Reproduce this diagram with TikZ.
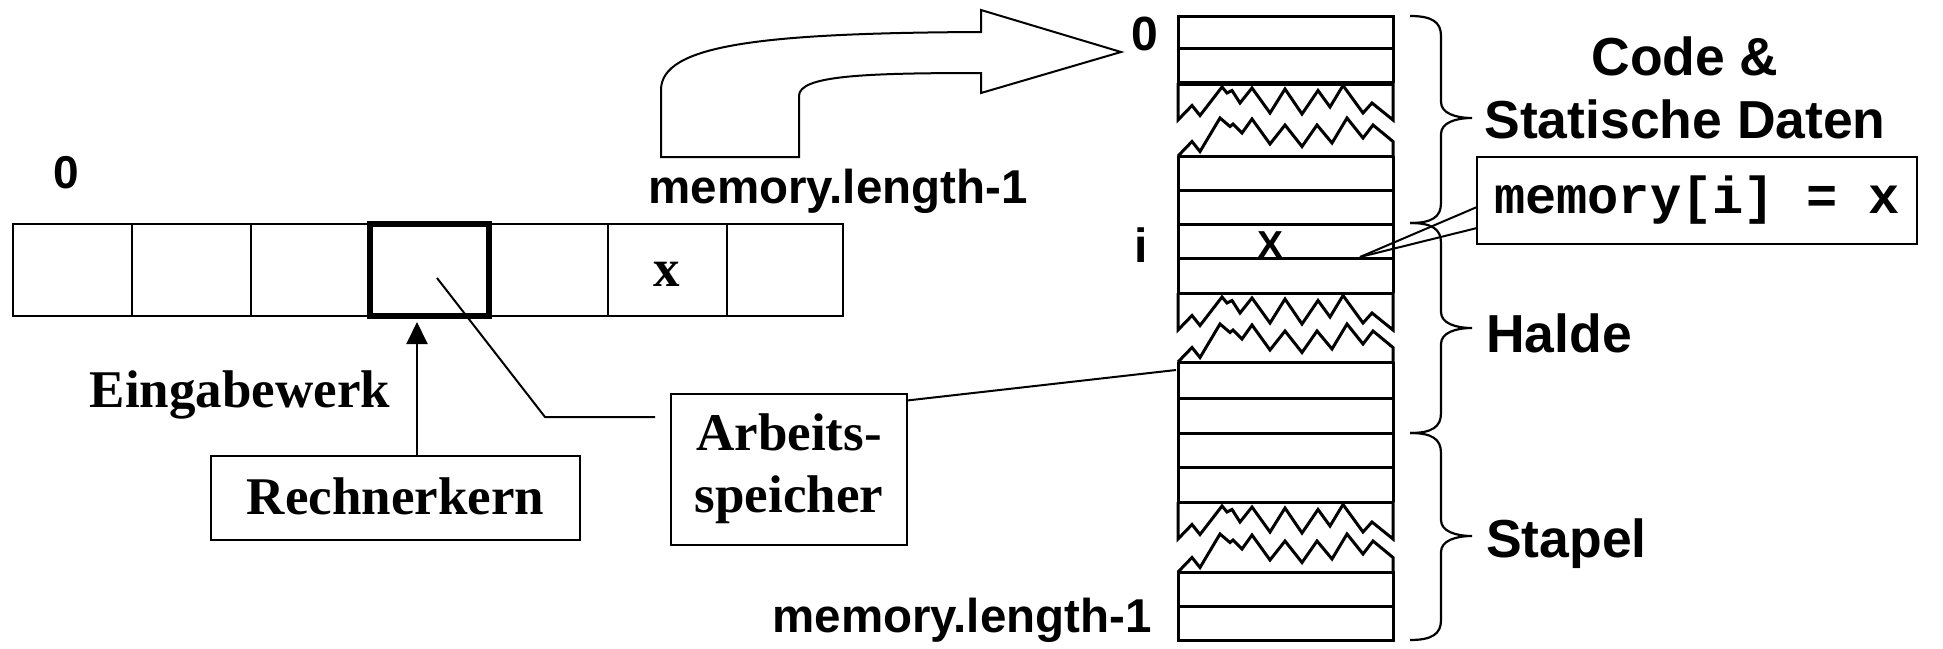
\documentclass[tikz,border=0pt]{standalone}
\usepackage{fontspec}
\setmainfont{Liberation Serif}
\setsansfont{Liberation Sans}
\setmonofont{Liberation Mono}
\usetikzlibrary{arrows.meta}

% fonts
\newcommand\timesbig{\rmfamily\bfseries\fontsize{53}{62}\selectfont}
\newcommand\arialbig{\sffamily\bfseries\fontsize{53.5}{63}\selectfont}
\newcommand\arialmid{\sffamily\bfseries\fontsize{47.5}{56}\selectfont}
\newcommand\courierbig{\ttfamily\bfseries\fontsize{52}{60}\selectfont}

% torn edge under the last line (at y=#1) of a memory piece
\newcommand\tearbelow[1]{%
  \draw[colline,shift={(1178,#1)}] (0,0) -- (0,37) -- (14,22.5) -- (22,32.5) -- (44,4)
    -- (49,10) -- (54,7.5) -- (62,20) -- (74,5) -- (92,30) -- (107,6) -- (124,31)
    -- (140,7.5) -- (152,24) -- (165,2.5) -- (185,30) -- (194,20) -- (215,37) -- (215,0);}
% torn edge above the first line (at y=#1) of a memory piece
\newcommand\tearabove[1]{%
  \draw[colline,shift={(1178,#1)}] (0,0) -- (14,-14.5) -- (22,-4.5) -- (42,-38) -- (52,-29.5)
    -- (55,-32) -- (64,-23) -- (74,-37) -- (92,-12) -- (107,-31) -- (124,-9.5)
    -- (139,-31) -- (154,-13) -- (169,-38) -- (185,-18) -- (195,-31) -- (215,-14.5) -- (215,0);}
% curly brace: top, tip, bottom
\newcommand\membrace[3]{%
  \draw[bracestyle] (1410,#1) .. controls (1432,#1) and (1441,#1+6) .. (1441,#1+20)
    -- (1441,#2-16) .. controls (1441,#2-5) and (1455,#2) .. (1472,#2)
    .. controls (1455,#2) and (1441,#2+5) .. (1441,#2+16)
    -- (1441,#3-20) .. controls (1441,#3-6) and (1432,#3) .. (1410,#3);}

\begin{document}
\begin{tikzpicture}[x=1pt,y=-1pt,
  cell/.style={draw,line width=2pt,minimum width=119pt,minimum height=92pt,
    inner sep=0pt,outer sep=0pt},
  colline/.style={line width=3pt,line join=miter},
  bracestyle/.style={line width=2.2pt},
  thin/.style={line width=2pt},
  labelbox/.style={draw,inner sep=0pt,outer sep=0pt}]
\useasboundingbox (0,0) rectangle (1943,648);

% ---------- linear memory (left) ----------
\node[cell] (c0) at (72,270) {};
\node[cell] (c1) at (191,270) {};
\node[cell] (c2) at (310,270) {};
\node[cell] (c4) at (548,270) {};
\node[cell,font=\timesbig,text height=32pt,text depth=0pt] (c5) at (667,270) {x};
\node[cell,minimum width=116pt] (c6) at (784.5,270) {};
\node[cell,line width=6pt] (c3) at (429,270) {};

\node[anchor=base,font=\sffamily\bfseries\fontsize{46}{50}\selectfont] (zeroLeft) at (66,188) {0};
\node[anchor=base,font=\arialmid] (lenTop) at (838,203) {memory.length-1};

\node[anchor=base,font=\timesbig] (eing) at (240,407) {Eingabewerk};
\node[labelbox,line width=1.2pt,minimum width=369pt,minimum height=84pt,
  font=\timesbig,text height=35pt,text depth=3pt] (rk) at (395.5,498) {Rechnerkern};
\draw[thin,-{Triangle[width=21pt,length=22pt]},shorten >=6pt]
  ([xshift=21.5pt]rk.north) -- ([xshift=21.5pt]rk.north |- c3.south);

\node[labelbox,line width=2pt,minimum width=236pt,minimum height=151pt,
  font=\timesbig,align=center] (as) at (789,469) {Arbeits-\\speicher};
\coordinate (cpuIn) at (437,278);
\coordinate (cpuBend) at (545,417);
\coordinate (cpuEnd) at (655,417);
\draw[thin] (cpuIn) -- (cpuBend) -- (cpuEnd);

% ---------- bent block arrow ----------
\draw[thin,line join=miter] (661,157) -- (661,90) .. controls (661,45) and (760,33) .. (981,32)
  -- (981,10) -- (1121,52) -- (981,93) -- (981,73)
  .. controls (860,73) and (799,76) .. (799,96) -- (799,157) -- cycle;

% ---------- memory column (right) ----------
% piece 1
\draw[colline] (1178,83) -- (1178,16) -- (1393,16) -- (1393,83);
\draw[colline] (1178,48) -- (1393,48);
\draw[line width=5pt] (1178,83) -- (1393,83);
\tearbelow{83}
% piece 2
\tearabove{156}
\draw[colline] (1178,156) -- (1393,156);
\draw[colline] (1178,156) -- (1178,293) (1393,156) -- (1393,293);
\foreach \yy in {190,224,258,293} \draw[colline] (1178,\yy) -- (1393,\yy);
\tearbelow{293}
% piece 3
\tearabove{362}
\draw[colline] (1178,362) -- (1178,502) (1393,362) -- (1393,502);
\foreach \yy in {362,398,433,467,502} \draw[colline] (1178,\yy) -- (1393,\yy);
\tearbelow{502}
% piece 4
\tearabove{572}
\draw[colline] (1178,572) -- (1393,572) -- (1393,640) -- (1178,640) -- cycle;
\draw[colline] (1178,606) -- (1393,606);

\node[anchor=base,font=\sffamily\bfseries\fontsize{39}{44}\selectfont] (xval) at (1270,258) {X};
\node[anchor=base,font=\sffamily\bfseries\fontsize{48}{56}\selectfont] (zeroTop) at (1145,50) {0};
\node[anchor=base,font=\sffamily\bfseries\fontsize{48}{56}\selectfont] (idx) at (1141,262) {i};
\node[anchor=base,font=\arialmid] (lenBot) at (962,632) {memory.length-1};

\coordinate (rowI) at (1360,257);
\coordinate (pieceTop) at (1176,370);
\draw[thin] ([yshift=-7pt]as.north east) -- (pieceTop);

% ---------- braces and area names ----------
\membrace{16}{118}{223}
\membrace{223}{328}{433}
\membrace{433}{536}{640}
\node[anchor=base,font=\arialbig] (code1) at (1685,75) {Code \&};
\node[anchor=base,font=\arialbig] (code2) at (1685,138) {Statische Daten};
\node[anchor=base west,font=\arialbig,inner sep=0pt] (halde) at (1486,352) {Halde};
\node[anchor=base west,font=\arialbig,inner sep=0pt] (stapel) at (1486,557) {Stapel};

\node[labelbox,line width=2pt,minimum width=440pt,minimum height=87pt,fill=white,
  font=\courierbig,text height=31pt,text depth=5pt] (mb) at (1697,200.5) {memory[i] = x};
\draw[thin] ([yshift=-6.5pt]mb.west) -- (rowI);
\draw[thin] ([yshift=-27.5pt]mb.west) -- (rowI);
\end{tikzpicture}
\end{document}
